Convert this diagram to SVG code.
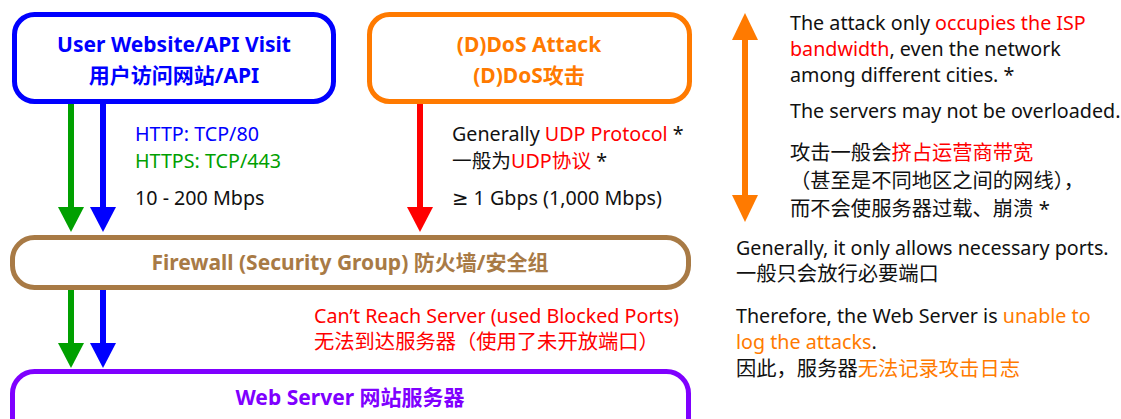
<svg xmlns="http://www.w3.org/2000/svg" width="1121" height="419" viewBox="0 0 1121 419">
<style>
text{font-family:"Noto Sans","Noto Sans CJK SC",sans-serif;font-size:19.7px;fill:#111}
.cjk{font-size:20.3px}
.t{font-weight:bold;font-size:21px;text-anchor:middle}
.box{fill:#fff;stroke-width:5}
.blue{fill:#0000ff}.green{fill:#00a000}.red{fill:#ff0000}.org{fill:#ff7a00}
.sym{font-family:"DejaVu Sans",sans-serif}
</style>
<defs>
<marker id="ahG" viewBox="0 0 25 26" refX="0" refY="13" markerWidth="25" markerHeight="26" markerUnits="userSpaceOnUse" orient="auto-start-reverse"><path d="M0,0L25,13L0,26Z" fill="#00a000"/></marker>
<marker id="ahB" viewBox="0 0 25 26" refX="0" refY="13" markerWidth="25" markerHeight="26" markerUnits="userSpaceOnUse" orient="auto-start-reverse"><path d="M0,0L25,13L0,26Z" fill="#0000ff"/></marker>
<marker id="ahR" viewBox="0 0 25 26" refX="0" refY="13" markerWidth="25" markerHeight="26" markerUnits="userSpaceOnUse" orient="auto-start-reverse"><path d="M0,0L25,13L0,26Z" fill="#ff0000"/></marker>
<marker id="ahO" viewBox="0 0 27 26" refX="0" refY="13" markerWidth="27" markerHeight="26" markerUnits="userSpaceOnUse" orient="auto-start-reverse"><path d="M0,0L27,13L0,26Z" fill="#ff7a00"/></marker>
</defs>
<rect width="1121" height="419" fill="#fff"/>
<g id="connectors" stroke-width="6" fill="none">
<path d="M71,103V207" stroke="#00a000" marker-end="url(#ahG)"/>
<path d="M103,103V207" stroke="#0000ff" marker-end="url(#ahB)"/>
<path d="M420,103V207" stroke="#ff0000" marker-end="url(#ahR)"/>
<path d="M71,289V343" stroke="#00a000" marker-end="url(#ahG)"/>
<path d="M103,289V343" stroke="#0000ff" marker-end="url(#ahB)"/>
<path d="M745,40V195" stroke="#ff7a00" marker-start="url(#ahO)" marker-end="url(#ahO)"/>
</g>
<g id="user">
<rect class="box" x="14.5" y="14.5" width="319" height="87" rx="20" stroke="#0000ff"/>
<text class="t blue" x="174" y="52">User Website/API Visit</text>
<text class="t blue" x="174" y="83">用户访问网站/API</text>
</g>
<g id="ddos">
<rect class="box" x="369.5" y="14.5" width="320" height="87" rx="20" stroke="#ff7a00"/>
<text class="t org" x="529" y="52">(D)DoS Attack</text>
<text class="t org" x="529" y="83">(D)DoS攻击</text>
</g>
<g id="firewall">
<rect class="box" x="12.5" y="237.5" width="676" height="50" rx="22" stroke="#a87a45"/>
<text class="t" x="350" y="270" style="fill:#a87a45">Firewall (Security Group) 防火墙/安全组</text>
</g>
<g id="webserver">
<rect class="box" x="12.5" y="371.5" width="676" height="70" rx="22" stroke="#7f00ff"/>
<text class="t" x="350" y="405" style="fill:#7f00ff">Web Server 网站服务器</text>
</g>
<g id="labels">
<text x="135" y="141" class="blue">HTTP: TCP/80</text>
<text x="135" y="168" class="green">HTTPS: TCP/443</text>
<text x="135" y="205">10 - 200 Mbps</text>
<text x="452" y="141">Generally <tspan class="red">UDP Protocol</tspan> *</text>
<text x="452" y="168">一般为<tspan class="red">UDP协议</tspan> *</text>
<text x="452" y="205"><tspan class="sym">≥</tspan> 1 Gbps (1,000 Mbps)</text>
<text x="314" y="323" class="red">Can’t Reach Server (used Blocked Ports)</text>
<text x="314" y="349" class="red cjk">无法到达服务器（使用了未开放端口）</text>
<text x="790" y="30">The attack only <tspan class="red">occupies the ISP</tspan></text>
<text x="790" y="56"><tspan class="red">bandwidth</tspan>, even the network</text>
<text x="790" y="82">among different cities. *</text>
<text x="790" y="118">The servers may not be overloaded.</text>
<text x="790" y="160" class="cjk">攻击一般会<tspan class="red">挤占运营商带宽</tspan></text>
<text x="790" y="188" class="cjk">（甚至是不同地区之间的网线），</text>
<text x="790" y="216" class="cjk">而不会使服务器过载、崩溃 *</text>
<text x="736" y="255">Generally, it only allows necessary ports.</text>
<text x="736" y="281" class="cjk">一般只会放行必要端口</text>
<text x="736" y="323">Therefore, the Web Server is <tspan class="org">unable to</tspan></text>
<text x="736" y="349"><tspan class="org">log the attacks</tspan>.</text>
<text x="736" y="376" class="cjk">因此，服务器<tspan class="org">无法记录攻击日志</tspan></text>
</g>
</svg>
